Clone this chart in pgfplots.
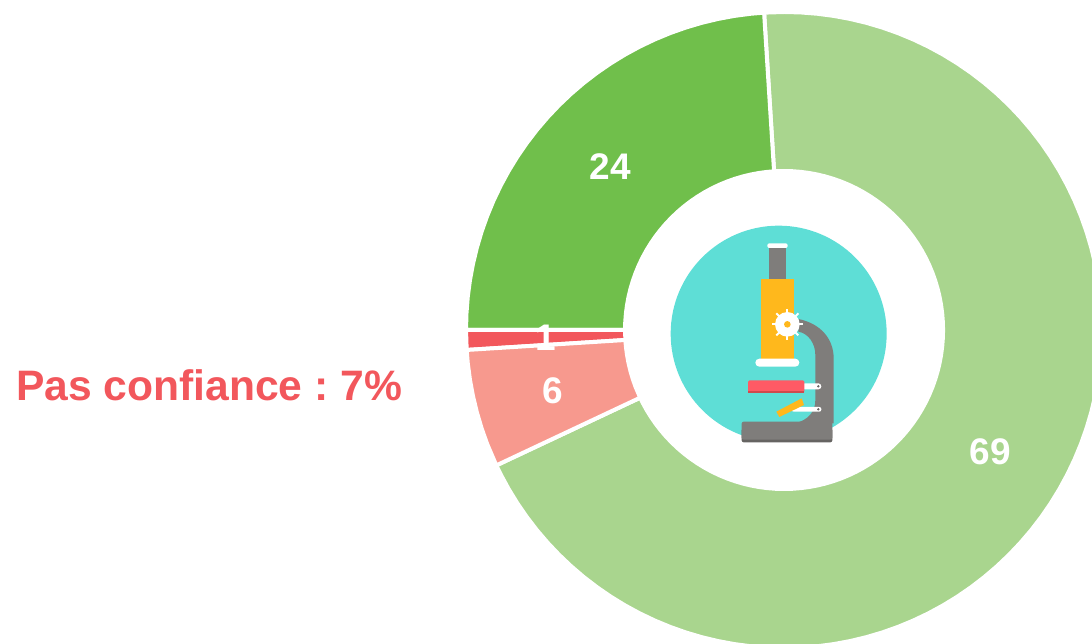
\documentclass[border=0pt]{standalone}
\usepackage{pgfplots}
\pgfplotsset{compat=1.18}
\usepackage{fontspec}
\setmainfont{Liberation Sans}
\definecolor{gA}{HTML}{A9D58E}
\definecolor{gB}{HTML}{70BF4B}
\definecolor{rA}{HTML}{F7998E}
\definecolor{rB}{HTML}{F2575C}
\definecolor{tealc}{HTML}{5EDED6}
\definecolor{grayc}{HTML}{7F7D7B}
\definecolor{grayd}{HTML}{666462}
\definecolor{yelc}{HTML}{FFB81C}
\definecolor{redc}{HTML}{FF5A65}
\tikzset{lbl/.style={font=\bfseries\fontsize{37}{40}\selectfont, text=white, inner sep=0pt, anchor=center}}
\begin{document}
\frenchspacing
\begin{tikzpicture}
\begin{axis}[
  scale only axis, width=1092pt, height=643pt,
  xmin=-784, xmax=308, ymin=-313, ymax=330,
  hide axis, clip=true,
  every axis plot/.append style={draw=white, line width=4pt, line join=round, mark=none}
]
% share 69
\addplot[fill=gA, data cs=polar] coordinates {
(93.6,318)(90,318)(87,318)(84,318)(81,318)(78,318)(75,318)(72,318)(69,318)(66,318)(63,318)(60,318)(57,318)(54,318)(51,318)(48,318)(45,318)(42,318)(39,318)(36,318)(33,318)(30,318)(27,318)(24,318)(21,318)(18,318)(15,318)(12,318)(9,318)(6,318)(3,318)(0,318)
(-3,318)(-6,318)(-9,318)(-12,318)(-15,318)(-18,318)(-21,318)(-24,318)(-27,318)(-30,318)(-33,318)(-36,318)(-39,318)(-42,318)(-45,318)(-48,318)(-51,318)(-54,318)(-57,318)(-60,318)(-63,318)(-66,318)(-69,318)(-72,318)(-75,318)(-78,318)(-81,318)(-84,318)(-87,318)(-90,318)
(-93,318)(-96,318)(-99,318)(-102,318)(-105,318)(-108,318)(-111,318)(-114,318)(-117,318)(-120,318)(-123,318)(-126,318)(-129,318)(-132,318)(-135,318)(-138,318)(-141,318)(-144,318)(-147,318)(-150,318)(-153,318)(-154.8,318)
(-154.8,159)(-153,159)(-150,159)(-147,159)(-144,159)(-141,159)(-138,159)(-135,159)(-132,159)(-129,159)(-126,159)(-123,159)(-120,159)(-117,159)(-114,159)(-111,159)(-108,159)(-105,159)(-102,159)(-99,159)(-96,159)(-93,159)
(-90,159)(-87,159)(-84,159)(-81,159)(-78,159)(-75,159)(-72,159)(-69,159)(-66,159)(-63,159)(-60,159)(-57,159)(-54,159)(-51,159)(-48,159)(-45,159)(-42,159)(-39,159)(-36,159)(-33,159)(-30,159)(-27,159)(-24,159)(-21,159)(-18,159)(-15,159)(-12,159)(-9,159)(-6,159)(-3,159)
(0,159)(3,159)(6,159)(9,159)(12,159)(15,159)(18,159)(21,159)(24,159)(27,159)(30,159)(33,159)(36,159)(39,159)(42,159)(45,159)(48,159)(51,159)(54,159)(57,159)(60,159)(63,159)(66,159)(69,159)(72,159)(75,159)(78,159)(81,159)(84,159)(87,159)(90,159)(93.6,159)
} -- cycle;
% share 24
\addplot[fill=gB, data cs=polar] coordinates {
(93.6,318)(96,318)(99,318)(102,318)(105,318)(108,318)(111,318)(114,318)(117,318)(120,318)(123,318)(126,318)(129,318)(132,318)(135,318)(138,318)(141,318)(144,318)(147,318)(150,318)(153,318)(156,318)(159,318)(162,318)(165,318)(168,318)(171,318)(174,318)(177,318)(180,318)
(180,159)(177,159)(174,159)(171,159)(168,159)(165,159)(162,159)(159,159)(156,159)(153,159)(150,159)(147,159)(144,159)(141,159)(138,159)(135,159)(132,159)(129,159)(126,159)(123,159)(120,159)(117,159)(114,159)(111,159)(108,159)(105,159)(102,159)(99,159)(96,159)(93.6,159)
} -- cycle;
% share 1
\addplot[fill=rB, data cs=polar] coordinates {
(180,318)(183.6,318)(183.6,159)(180,159)
} -- cycle;
% share 6
\addplot[fill=rA, data cs=polar] coordinates {
(183.6,318)(186,318)(189,318)(192,318)(195,318)(198,318)(201,318)(205.2,318)
(205.2,159)(201,159)(198,159)(195,159)(192,159)(189,159)(186,159)(183.6,159)
} -- cycle;
\node[lbl] at (axis cs:-174,163) {24};
\node[lbl] at (axis cs:206,-122) {69};
\node[lbl] at (axis cs:-231,-61) {6};
\node[lbl] at (axis cs:-238,-8) {1};
\node[font=\bfseries\fontsize{42.6}{46}\selectfont, text=rB, inner sep=0pt, anchor=center] at (axis cs:-575,-55) {Pas conf\kern0pt iance : 7\%};
\end{axis}
% icon: coordinates in units of 1/3 reference pixel
\begin{scope}[shift={(660pt,428pt)}, x=0.33333pt, y=-0.33333pt]
  \fill[tealc] (356,356) circle[radius=108pt];
  % arm
  \fill[grayc] (415,312) .. controls (480,325) and (521,370) .. (521,430) -- (521,625) -- (405,625)
     .. controls (445,615) and (466,590) .. (466,555) -- (466,420) .. controls (466,385) and (445,355) .. (415,350) -- cycle;
  % tube
  \fill[grayc] (328,95) rectangle (377,195);
  \fill[white,rounded corners=2pt] (322,85) rectangle (383,99);
  % body
  \fill[yelc] (304,193) rectangle (401,432);
  \fill[white,rounded corners=4pt] (286,431) rectangle (418,455);
  % knob
  \foreach \a in {0,45,...,315}{
    \draw[white,line width=2pt] (382,328) -- ++(\a:15.6pt);
  }
  \fill[white] (382,328) circle[radius=12.3pt];
  \fill[yelc] (382,328) circle[radius=3.3pt];
  % stage
  \fill[white,rounded corners=3pt] (425,505) rectangle (484,523);
  \fill[grayd] (475,514) circle[radius=1.3pt];
  \fill[redc,rounded corners=1.5pt] (264,496) rectangle (433,533);
  \fill[rB!85!black] (264,527) rectangle (433,533);
  % mirror
  \fill[white,rounded corners=2pt] (395,576) rectangle (484,590);
  \fill[grayd] (475,583) circle[radius=1.3pt];
  \fill[yelc] (349,590) -- (425,550) -- (432,570) -- (358,606) -- cycle;
  % base
  \fill[grayd,rounded corners=2pt] (245,640) rectangle (517,682);
  \fill[grayc,rounded corners=2pt] (245,620) rectangle (517,674);
\end{scope}
\pgfresetboundingbox
\path[use as bounding box] (0,0) rectangle (1092pt,643pt);
\end{tikzpicture}
\end{document}
